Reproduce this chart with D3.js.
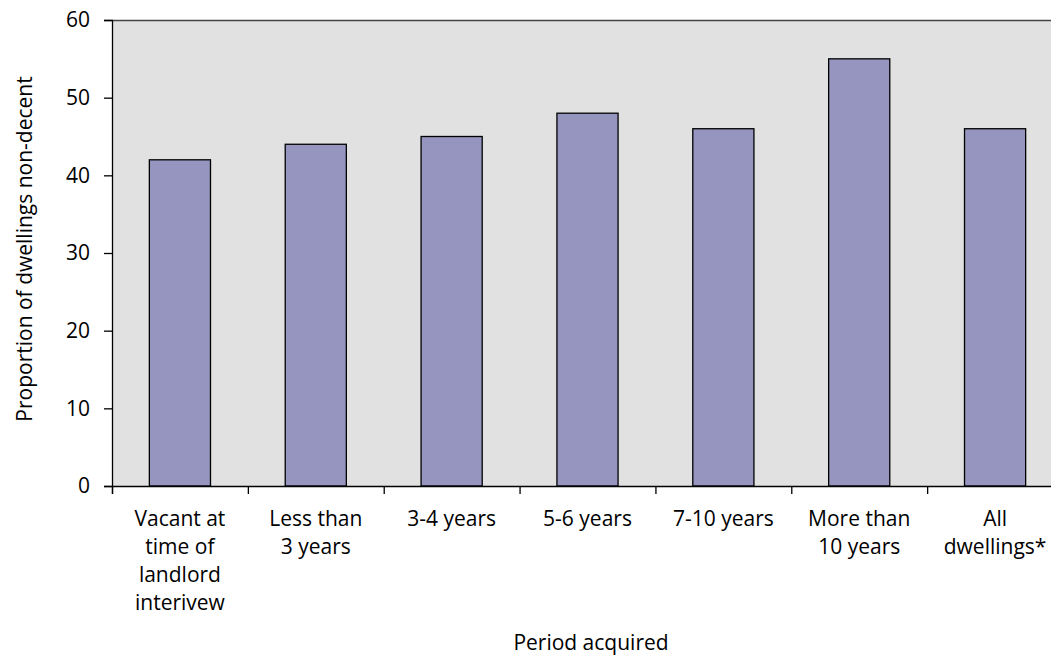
<!DOCTYPE html>
<html><head><meta charset="utf-8">
<script src="https://cdn.jsdelivr.net/npm/d3@7"></script>
<style>body{margin:0;background:#fff}svg{display:block}text{font-family:"Open Sans","Noto Sans",sans-serif;fill:#000}</style>
</head><body><svg id="c" width="1051" height="655"></svg>
<script>
const categories = [["Vacant at","time of","landlord","interivew"],["Less than","3 years"],["3-4 years"],["5-6 years"],["7-10 years"],["More than","10 years"],["All","dwellings*"]];
const values = [42,44,45,48,46,55,46];
const yTicks = [0,10,20,30,40,50,60];

const FS = "21px";
const svg = d3.select("#c");
const m = {l:112, t:20, r:1063, b:486};
const x = d3.scaleBand().domain(d3.range(categories.length)).range([m.l, m.r]).paddingInner(0.55).paddingOuter(0.275);
const xb = d3.scaleLinear().domain([0, categories.length]).range([m.l, m.r]);
const y = d3.scaleLinear().domain([0,60]).range([m.b, m.t]);

svg.append("rect").attr("x", m.l).attr("y", m.t).attr("width", m.r-m.l).attr("height", m.b-m.t).attr("fill","#e1e1e1");
svg.append("line").attr("x1",m.l).attr("x2",m.r).attr("y1",m.t+0.5).attr("y2",m.t+0.5).attr("stroke","#444").attr("stroke-width",1.3);

svg.selectAll("rect.bar").data(values).join("rect").attr("class","bar")
  .attr("x",(d,i)=>x(i)).attr("y",d=>y(d)).attr("width",x.bandwidth()).attr("height",d=>y(0)-y(d))
  .attr("fill","#9595bf").attr("stroke","#000").attr("stroke-width",1.3);

// y axis
const ya = svg.append("g").attr("transform",`translate(${m.l},0)`)
  .call(d3.axisLeft(y).tickValues(yTicks).tickSize(8).tickPadding(14));
ya.select(".domain").attr("stroke","#000").attr("stroke-width",1.3);
ya.selectAll(".tick line").attr("stroke","#000").attr("stroke-width",1.3);
ya.selectAll(".tick text").style("font-size",FS).style("font-family",'"Open Sans",sans-serif').attr("fill","#000");

// x axis
const xa = svg.append("g").attr("transform",`translate(0,${m.b})`)
  .call(d3.axisBottom(xb).tickValues(d3.range(categories.length+1)).tickSize(8).tickFormat(""));
xa.select(".domain").attr("stroke","#000").attr("stroke-width",1.3);
xa.selectAll(".tick line").attr("stroke","#000").attr("stroke-width",1.3);

const lab = svg.append("g");
categories.forEach((lines,i)=>{
  const cx = x(i)+x.bandwidth()/2;
  const t = lab.append("text").attr("x", cx).attr("y", 526).attr("text-anchor","middle").style("font-size",FS);
  lines.forEach((s,j)=>t.append("tspan").attr("x", cx).attr("dy", j===0?0:28).text(s));
});

svg.append("text").attr("x", 591).attr("y", 650).attr("text-anchor","middle").style("font-size",FS).text("Period acquired");
svg.append("text").attr("transform",`translate(32,249) rotate(-90)`).attr("text-anchor","middle").style("font-size",FS).text("Proportion of dwellings non-decent");
</script></body></html>
